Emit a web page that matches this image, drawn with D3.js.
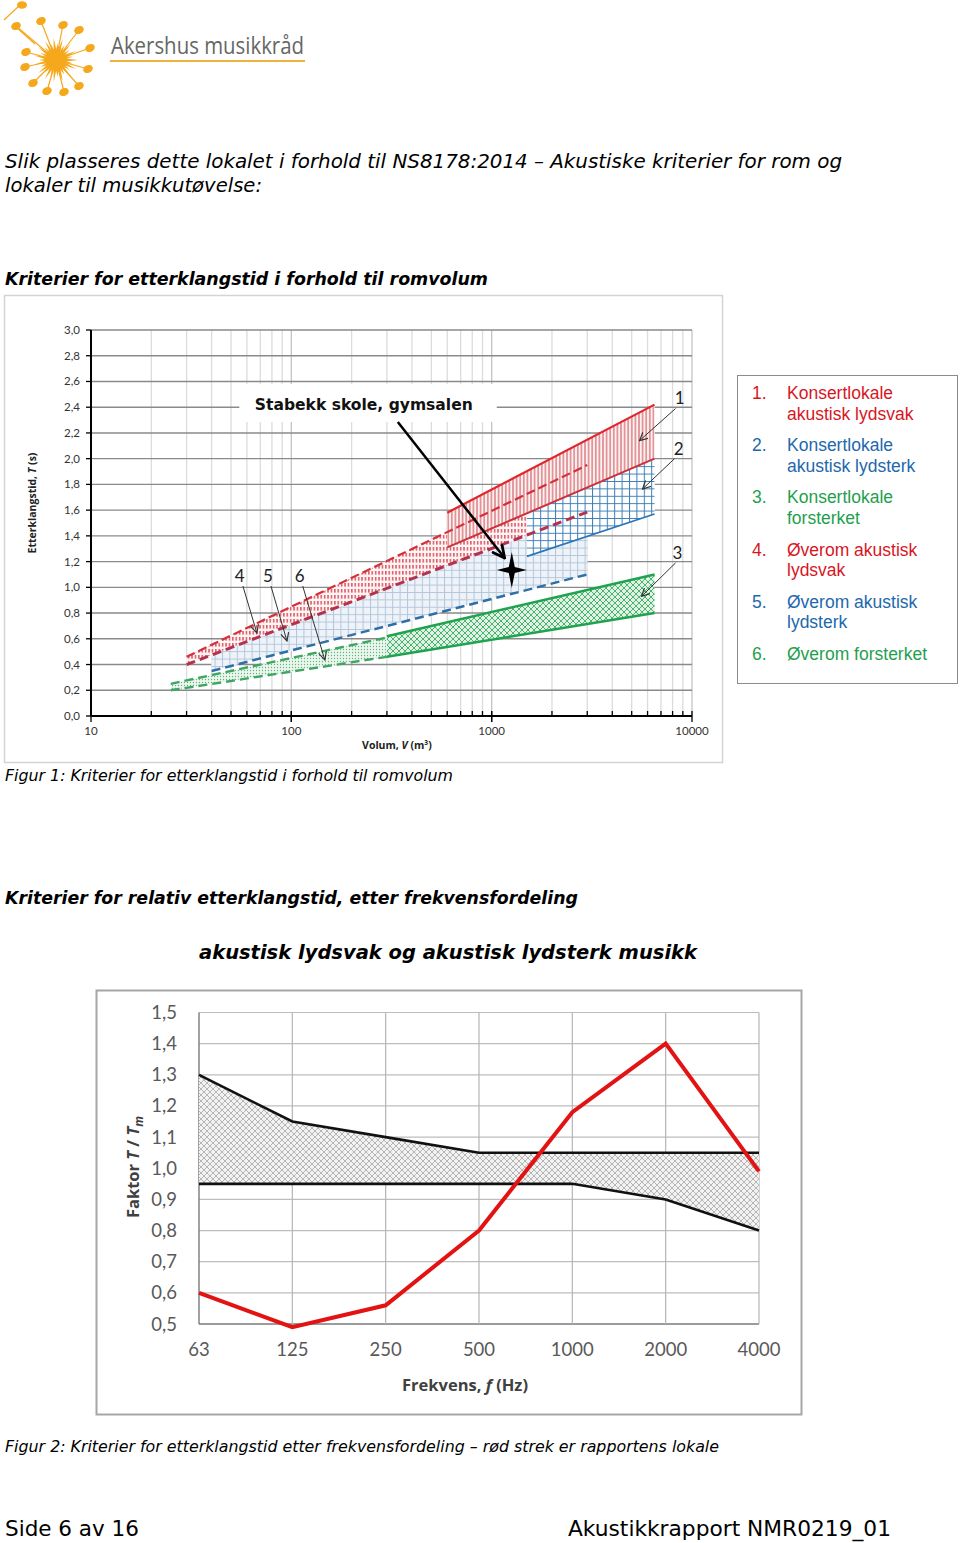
<!DOCTYPE html>
<html><head><meta charset="utf-8">
<script src="https://cdn.jsdelivr.net/npm/d3@7"></script>
<style>body{margin:0;background:#fff}svg{display:block}</style>
</head><body>
<script>
// ---------------- DATA: Figure 1 ----------------
const volumeTicks = [10, 100, 1000, 10000];
const volumeTickLabels = ["10", "100", "1000", "10000"];
const timeTicks = [0, 0.2, 0.4, 0.6, 0.8, 1.0, 1.2, 1.4, 1.6, 1.8, 2.0, 2.2, 2.4, 2.6, 2.8, 3.0];
const timeTickLabels = ["0,0","0,2","0,4","0,6","0,8","1,0","1,2","1,4","1,6","1,8","2,0","2,2","2,4","2,6","2,8","3,0"];
// bands: volume range, upper T at both ends, lower T at both ends
const band1V = [600, 6500],  band1Upper = [1.58, 2.42],  band1Lower = [1.31, 2.00];
const band2V = [1500, 6500], band2Upper = [1.575, 2.00], band2Lower = [1.24, 1.57];
const band3V = [300, 6500],  band3Upper = [0.62, 1.10],  band3Lower = [0.46, 0.80];
const band4V = [30, 3000],   band4Upper = [0.46, 1.95],  band4Lower = [0.40, 1.585];
const band5V = [40, 3000],   band5Upper = [0.474, 1.585], band5Lower = [0.35, 1.10];
const band6V = [25, 300],    band6Upper = [0.25, 0.61],  band6Lower = [0.20, 0.46];
const roomPoint = [1260, 1.135];
const legendNumbers = ["1.", "2.", "3.", "4.", "5.", "6."];
const legendLabels = [["Konsertlokale","akustisk lydsvak"],["Konsertlokale","akustisk lydsterk"],["Konsertlokale","forsterket"],["Øverom akustisk","lydsvak"],["Øverom akustisk","lydsterk"],["Øverom forsterket"]];
// ---------------- DATA: Figure 2 ----------------
const freqs = ["63", "125", "250", "500", "1000", "2000", "4000"];
const upperLimit = [1.30, 1.15, 1.10, 1.05, 1.05, 1.05, 1.05];
const lowerLimit = [0.95, 0.95, 0.95, 0.95, 0.95, 0.90, 0.80];
const measured  = [0.60, 0.49, 0.56, 0.80, 1.18, 1.40, 0.99];
const factorTicks = [0.5, 0.6, 0.7, 0.8, 0.9, 1.0, 1.1, 1.2, 1.3, 1.4, 1.5];
const factorTickLabels = ["0,5","0,6","0,7","0,8","0,9","1,0","1,1","1,2","1,3","1,4","1,5"];

const RED = "#e0262d", BLUE = "#2c77b8", GREEN = "#1fa34f";
const LRED = "#d8161f", LBLUE = "#2268ac", LGREEN = "#1f9f4d";

const svg = d3.select("body").append("svg").attr("width", 960).attr("height", 1543);
const defs = svg.append("defs");

// ---------------- Logo ----------------
(function(){
  const g = svg.append("g");
  const cx = 56, cy = 60, orange = "#f5a81c";
  const heads = [[79,30],[90,48],[88,69],[79,86],[64,92],[47,91],[33,83],[25,67],[26,52],[63,25],[41,21],[16,26]];
  heads.forEach(h => {
    g.append("line").attr("x1", cx).attr("y1", cy).attr("x2", h[0]).attr("y2", h[1]).attr("stroke", orange).attr("stroke-width", 1.2);
    g.append("ellipse").attr("cx", h[0]).attr("cy", h[1]).attr("rx", 5).attr("ry", 3.8).attr("fill", orange)
      .attr("transform", `rotate(-25 ${h[0]} ${h[1]})`);
  });
  g.append("line").attr("x1", 4).attr("y1", 20).attr("x2", 20).attr("y2", 5).attr("stroke", orange).attr("stroke-width", 1.2);
  g.append("ellipse").attr("cx", 22).attr("cy", 5).attr("rx", 5).attr("ry", 3.8).attr("fill", orange);
  g.append("line").attr("x1", 16).attr("y1", 27).attr("x2", 35).attr("y2", 44).attr("stroke", orange).attr("stroke-width", 1.2);
  for (let i = 0; i < 30; i++) {
    const a = i / 30 * 2 * Math.PI, r = (i % 2 ? 17 : 22), w = 0.16;
    g.append("path").attr("d", `M${cx + 6*Math.cos(a-w*2)},${cy + 6*Math.sin(a-w*2)} L${cx + r*Math.cos(a)},${cy + r*Math.sin(a)} L${cx + 6*Math.cos(a+w*2)},${cy + 6*Math.sin(a+w*2)}Z`).attr("fill", orange);
  }
  g.append("circle").attr("cx", cx).attr("cy", cy).attr("r", 10).attr("fill", orange);
  g.append("text").attr("x", 111).attr("y", 54).attr("font-family", "Open Sans").attr("font-size", 23)
    .attr("fill", "#666").attr("textLength", 193).attr("lengthAdjust", "spacingAndGlyphs").text("Akershus musikkråd");
  g.append("line").attr("x1", 110).attr("x2", 305).attr("y1", 61).attr("y2", 61).attr("stroke", "#f2b23a").attr("stroke-width", 2);
})();

// ---------------- Body texts ----------------
function txt(x, y, s, size, opts) {
  opts = opts || {};
  const t = svg.append("text").attr("x", x).attr("y", y).attr("font-family", opts.family || "DejaVu Sans")
    .attr("font-size", size).attr("fill", opts.fill || "#000").text(s);
  if (opts.italic) t.attr("font-style", "italic");
  if (opts.bold) t.attr("font-weight", "bold");
  if (opts.anchor) t.attr("text-anchor", opts.anchor);
  if (opts.len) t.attr("textLength", opts.len).attr("lengthAdjust", "spacingAndGlyphs");
  return t;
}
txt(5, 168, "Slik plasseres dette lokalet i forhold til NS8178:2014 – Akustiske kriterier for rom og", 19, {italic:true, len:837});
txt(5, 192, "lokaler til musikkutøvelse:", 19, {italic:true, len:257});
txt(5, 285, "Kriterier for etterklangstid i forhold til romvolum", 17, {italic:true, bold:true, len:483});
txt(5, 781, "Figur 1: Kriterier for etterklangstid i forhold til romvolum", 15, {italic:true, len:448});
txt(5, 904, "Kriterier for relativ etterklangstid, etter frekvensfordeling", 17, {italic:true, bold:true, len:573});
txt(199, 959, "akustisk lydsvak og akustisk lydsterk musikk", 20, {italic:true, bold:true, len:498});
txt(5, 1452, "Figur 2: Kriterier for etterklangstid etter frekvensfordeling – rød strek er rapportens lokale", 15, {italic:true, len:714});
txt(5, 1536, "Side 6 av 16", 21, {len:134});
txt(568, 1536, "Akustikkrapport NMR0219_01", 21, {len:323});

// ---------------- Figure 1 ----------------
svg.append("rect").attr("x", 4.5).attr("y", 295.5).attr("width", 718).attr("height", 467)
  .attr("fill", "#fff").attr("stroke", "#d4d4d4").attr("stroke-width", 1.5);

const x = d3.scaleLog().domain([10, 10000]).range([91, 692]);
const y = d3.scaleLinear().domain([0, 3]).range([716, 330]);
const line = d3.line().x(d => x(d[0])).y(d => y(d[1]));

function pat(id, w, h, bg, draw) {
  const p = defs.append("pattern").attr("id", id).attr("patternUnits", "userSpaceOnUse").attr("width", w).attr("height", h);
  p.append("rect").attr("width", w).attr("height", h).attr("fill", bg);
  draw(p);
}
pat("p1", 3.6, 10, "#fdf1f1", p => p.append("line").attr("x1", 1.8).attr("x2", 1.8).attr("y1", 0).attr("y2", 10).attr("stroke", "#cc4a52").attr("stroke-width", 1));
pat("p2", 7.4, 7.4, "#ffffff", p => { p.append("path").attr("d", "M0,0.5H7.4M0.5,0V7.4").attr("stroke", "#3a7db6").attr("stroke-width", 1); });
pat("p3", 6, 6, "#dff2e4", p => { p.append("path").attr("d", "M0,0L6,6M6,0L0,6").attr("stroke", "#33a55b").attr("stroke-width", 0.85); });
pat("p4", 3.4, 6, "#fff3f3", p => p.append("rect").attr("x", 1).attr("y", 1).attr("width", 1.3).attr("height", 3.6).attr("fill", "#d2434f"));
pat("p5", 7.4, 7.4, "#eef3f9", p => { p.append("path").attr("d", "M0,0.5H7.4M0.5,0V7.4").attr("stroke", "#b3c6da").attr("stroke-width", 1); });
pat("p6", 3, 3, "#ebf6ee", p => p.append("circle").attr("cx", 1.5).attr("cy", 1.5).attr("r", 0.65).attr("fill", "#5fb67a"));

const vGrid = [];
for (const dec of [10, 100, 1000]) for (let k = 1; k <= 10; k++) vGrid.push(dec * k);
const g1 = svg.append("g");
g1.selectAll(".vg").data([...new Set(vGrid)].filter(v => v > 10)).join("line")
  .attr("x1", d => x(d)).attr("x2", d => x(d)).attr("y1", y(3)).attr("y2", y(0))
  .attr("stroke", d => volumeTicks.includes(d) ? "#c4c4c4" : "#dcdcdc").attr("stroke-width", 1.3);
g1.selectAll(".hg").data(timeTicks.filter(t => t > 0)).join("line")
  .attr("x1", x(10)).attr("x2", x(10000)).attr("y1", d => y(d)).attr("y2", d => y(d))
  .attr("stroke", "#8a8a8a").attr("stroke-width", 1.4);

const labelBox = {v0: 55, v1: 1060, t0: 2.58, t1: 2.285, center: 230};
g1.append("rect").attr("x", x(labelBox.v0)).attr("y", y(labelBox.t0)).attr("width", x(labelBox.v1) - x(labelBox.v0))
  .attr("height", y(labelBox.t1) - y(labelBox.t0)).attr("fill", "#fff");

function poly(V, U, L) { return [[V[0], U[0]], [V[1], U[1]], [V[1], L[1]], [V[0], L[0]]]; }
const areaPath = pts => line(pts) + "Z";
const fills = [
  [band5V, band5Upper, band5Lower, "p5"],
  [band6V, band6Upper, band6Lower, "p6"],
  [band4V, band4Upper, band4Lower, "p4"],
  [band3V, band3Upper, band3Lower, "p3"],
  [band2V, band2Upper, band2Lower, "p2"],
  [band1V, band1Upper, band1Lower, "p1"]
];
fills.forEach(f => {
  g1.append("path").attr("d", areaPath(poly(f[0], f[1], f[2]))).attr("fill", "#fff");
  g1.append("path").attr("d", areaPath(poly(f[0], f[1], f[2]))).attr("fill", `url(#${f[3]})`);
});
function seg(V, T, color, w, dash) {
  const p = g1.append("path").attr("d", line([[V[0], T[0]], [V[1], T[1]]])).attr("fill", "none")
    .attr("stroke", color).attr("stroke-width", w);
  if (dash) p.attr("stroke-dasharray", dash);
}
seg(band6V, band6Upper, "#3fa562", 2.4, "9,5");
seg(band6V, band6Lower, "#3fa562", 2.4, "9,5");
seg(band5V, band5Lower, "#2d6fa6", 2.5, "9,5");
seg(band4V, band4Upper, "#d42f3a", 2.2, "9,4");
seg(band4V, band4Lower, "#b3334f", 3, "9,5");
seg(band3V, band3Upper, GREEN, 2.5);
seg(band3V, band3Lower, GREEN, 2.5);
seg(band2V, band2Lower, BLUE, 1.8);
seg(band1V, band1Lower, "#c8333c", 2);
seg(band1V, band1Upper, RED, 2.2);

g1.append("line").attr("x1", x(10)).attr("x2", x(10)).attr("y1", y(3)).attr("y2", y(0)).attr("stroke", "#000").attr("stroke-width", 2);
g1.append("line").attr("x1", x(10)).attr("x2", x(10000)).attr("y1", y(0)).attr("y2", y(0)).attr("stroke", "#000").attr("stroke-width", 2);
g1.selectAll(".yt").data(timeTicks).join("line").attr("x1", x(10) - 5).attr("x2", x(10)).attr("y1", d => y(d)).attr("y2", d => y(d)).attr("stroke", "#000").attr("stroke-width", 1.3);
g1.selectAll(".ytl").data(timeTicks).join("text").attr("x", 80).attr("y", d => y(d) + 4).attr("text-anchor", "end")
  .attr("font-family", "Lato").attr("font-size", 11.5).attr("fill", "#333").text((d, i) => timeTickLabels[i]);
g1.selectAll(".xt").data(vGrid.filter(v => v > 10).concat([10])).join("line")
  .attr("x1", d => x(d)).attr("x2", d => x(d)).attr("y1", d => volumeTicks.includes(d) ? y(0) + 6 : y(0)).attr("y2", y(0) - 5)
  .attr("stroke", "#000").attr("stroke-width", 1.3);
g1.selectAll(".xtl").data(volumeTicks).join("text").attr("x", d => x(d)).attr("y", 735).attr("text-anchor", "middle")
  .attr("font-family", "Lato").attr("font-size", 11.5).attr("fill", "#333").text((d, i) => volumeTickLabels[i]);
const xl = g1.append("text").attr("x", 397).attr("y", 749).attr("text-anchor", "middle").attr("font-family", "Open Sans")
  .attr("font-weight", "bold").attr("font-size", 10.5).attr("fill", "#222");
xl.append("tspan").text("Volum, ");
xl.append("tspan").attr("font-style", "italic").text("V");
xl.append("tspan").text(" (m³)");
const yl = g1.append("text").attr("transform", "translate(36,503) rotate(-90)").attr("text-anchor", "middle")
  .attr("font-family", "Open Sans").attr("font-weight", "bold").attr("font-size", 10.5).attr("fill", "#222");
yl.append("tspan").text("Etterklangstid, ");
yl.append("tspan").attr("font-style", "italic").text("T");
yl.append("tspan").text(" (s)");

defs.append("marker").attr("id", "openArrow").attr("viewBox", "0 0 10 10").attr("refX", 9).attr("refY", 5)
  .attr("markerWidth", 9).attr("markerHeight", 9).attr("markerUnits", "userSpaceOnUse").attr("orient", "auto")
  .append("path").attr("d", "M0,0.5L9,5L0,9.5").attr("fill", "none").attr("stroke", "#333").attr("stroke-width", 1.3);
defs.append("marker").attr("id", "bigArrow").attr("viewBox", "0 0 10 10").attr("refX", 9).attr("refY", 5)
  .attr("markerWidth", 14).attr("markerHeight", 14).attr("markerUnits", "userSpaceOnUse").attr("orient", "auto")
  .append("path").attr("d", "M0,0.5L9,5L0,9.5").attr("fill", "none").attr("stroke", "#000").attr("stroke-width", 2);

const numLabels = [
  {n: "1", at: [8670, 2.47], from: [8280, 2.39], to: [5470, 2.14]},
  {n: "2", at: [8570, 2.075], from: [8180, 2.0], to: [5660, 1.764]},
  {n: "3", at: [8470, 1.267], from: [8280, 1.19], to: [5600, 0.93]},
  {n: "4", at: [55.3, 1.09], from: [57.3, 1.01], to: [67.3, 0.645]},
  {n: "5", at: [76.4, 1.09], from: [79.1, 1.01], to: [95.1, 0.583]},
  {n: "6", at: [110, 1.09], from: [114, 1.01], to: [147, 0.435]}
];
numLabels.forEach(l => {
  g1.append("text").attr("x", x(l.at[0])).attr("y", y(l.at[1]) + 6).attr("text-anchor", "middle")
    .attr("font-family", "Lato").attr("font-size", 17).attr("fill", "#222").text(l.n);
  g1.append("line").attr("x1", x(l.from[0])).attr("y1", y(l.from[1])).attr("x2", x(l.to[0])).attr("y2", y(l.to[1]))
    .attr("stroke", "#333").attr("stroke-width", 1).attr("marker-end", "url(#openArrow)");
});
g1.append("text").attr("x", x(labelBox.center)).attr("y", 410).attr("text-anchor", "middle")
  .attr("font-family", "DejaVu Sans").attr("font-weight", "bold").attr("font-size", 15.5).attr("fill", "#111")
  .attr("textLength", 218).attr("lengthAdjust", "spacingAndGlyphs").text("Stabekk skole, gymsalen");
g1.append("line").attr("x1", x(340)).attr("y1", y(2.285)).attr("x2", x(1161)).attr("y2", y(1.228))
  .attr("stroke", "#000").attr("stroke-width", 2.5).attr("marker-end", "url(#bigArrow)");
const sx = x(roomPoint[0]), sy = y(roomPoint[1]);
g1.append("path").attr("d", `M${sx},${sy-18} L${sx+3},${sy-3} L${sx+15},${sy} L${sx+3},${sy+3} L${sx},${sy+18} L${sx-3},${sy+3} L${sx-15},${sy} L${sx-3},${sy-3}Z`).attr("fill", "#000");

// legend
const lg = svg.append("g");
lg.append("rect").attr("x", 737.5).attr("y", 375.5).attr("width", 220).attr("height", 308).attr("fill", "#fff").attr("stroke", "#8c8c8c");
const legColors = [LRED, LBLUE, LGREEN, LRED, LBLUE, LGREEN];
legendLabels.forEach((lines, i) => {
  const yy = 399 + i * 52.2;
  lg.append("text").attr("x", 752).attr("y", yy).attr("font-family", "Liberation Sans").attr("font-size", 17.5).attr("fill", legColors[i]).text(legendNumbers[i]);
  lines.forEach((s, j) => lg.append("text").attr("x", 787).attr("y", yy + j * 20.5).attr("font-family", "Liberation Sans").attr("font-size", 17.5).attr("fill", legColors[i]).text(s));
});

// ---------------- Figure 2 ----------------
const g2 = svg.append("g");
g2.append("rect").attr("x", 96.5).attr("y", 990.5).attr("width", 705).attr("height", 424).attr("fill", "#fff").attr("stroke", "#a6a6a6").attr("stroke-width", 2);
const x2 = d3.scalePoint().domain(freqs).range([199, 759]);
const y2 = d3.scaleLinear().domain([0.5, 1.5]).range([1324, 1012.5]);
pat("p7", 6, 6, "#f2f2f2", p => { p.append("path").attr("d", "M0,0L6,6M6,0L0,6").attr("stroke", "#a0a0a0").attr("stroke-width", 0.75); });

g2.selectAll(".hg").data(factorTicks).join("line").attr("x1", x2("63")).attr("x2", x2("4000"))
  .attr("y1", d => y2(d)).attr("y2", d => y2(d)).attr("stroke", d => d === 0.5 ? "#7a7a7a" : "#bdbdbd").attr("stroke-width", d => d === 0.5 ? 1.6 : 1.2);
g2.selectAll(".vg").data(freqs).join("line").attr("x1", d => x2(d)).attr("x2", d => x2(d))
  .attr("y1", y2(1.5)).attr("y2", y2(0.5)).attr("stroke", (d, i) => i === 0 ? "#7a7a7a" : "#b5b5b5").attr("stroke-width", (d, i) => i === 0 ? 1.4 : 1.2);

const area2 = d3.area().x((d, i) => x2(freqs[i])).y0((d, i) => y2(lowerLimit[i])).y1(d => y2(d));
g2.append("path").attr("d", area2(upperLimit)).attr("fill", "url(#p7)");
const line2 = d3.line().x((d, i) => x2(freqs[i])).y(d => y2(d));
g2.append("path").attr("d", line2(upperLimit)).attr("fill", "none").attr("stroke", "#111").attr("stroke-width", 2.6);
g2.append("path").attr("d", line2(lowerLimit)).attr("fill", "none").attr("stroke", "#111").attr("stroke-width", 2.6);
g2.append("path").attr("d", line2(measured)).attr("fill", "none").attr("stroke", "#e31313").attr("stroke-width", 4);

g2.selectAll(".ytl").data(factorTicks).join("text").attr("x", 177).attr("y", d => y2(d) + 6.5).attr("text-anchor", "end")
  .attr("font-family", "Lato").attr("font-size", 18.5).attr("fill", "#595959").text((d, i) => factorTickLabels[i]);
g2.selectAll(".xtl").data(freqs).join("text").attr("x", d => x2(d)).attr("y", 1356).attr("text-anchor", "middle")
  .attr("font-family", "Lato").attr("font-size", 18.5).attr("fill", "#595959").text(d => d);
const xl2 = g2.append("text").attr("x", 465).attr("y", 1391).attr("text-anchor", "middle").attr("font-family", "Open Sans")
  .attr("font-weight", "bold").attr("font-size", 16.5).attr("fill", "#404040");
xl2.append("tspan").text("Frekvens, ");
xl2.append("tspan").attr("font-style", "italic").text("f");
xl2.append("tspan").text(" (Hz)");
const yl2 = g2.append("text").attr("transform", "translate(139,1167) rotate(-90)").attr("text-anchor", "middle")
  .attr("font-family", "Open Sans").attr("font-weight", "bold").attr("font-size", 16.5).attr("fill", "#404040");
yl2.append("tspan").text("Faktor ");
yl2.append("tspan").attr("font-style", "italic").text("T");
yl2.append("tspan").text(" / ");
yl2.append("tspan").attr("font-style", "italic").text("T");
yl2.append("tspan").attr("font-style", "italic").attr("font-size", 12).attr("dy", 4).text("m");
</script>
</body></html>
